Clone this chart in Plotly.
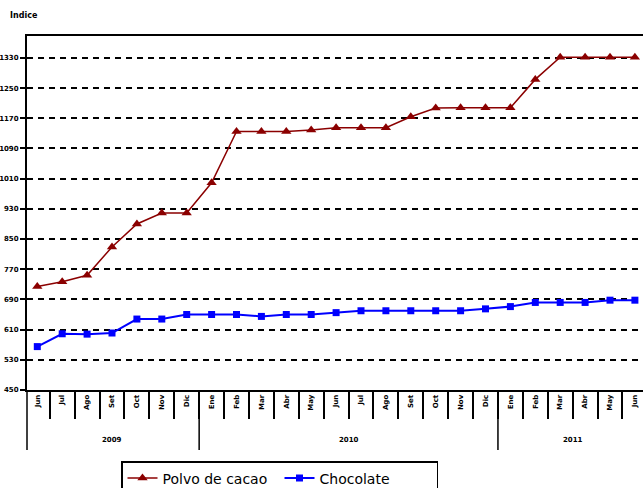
import plotly.graph_objects as go

months = ["Jun", "Jul", "Ago", "Set", "Oct", "Nov", "Dic",
          "Ene", "Feb", "Mar", "Abr", "May", "Jun", "Jul", "Ago", "Set", "Oct", "Nov", "Dic",
          "Ene", "Feb", "Mar", "Abr", "May", "Jun"]
years = ["2009", "2010", "2011"]
year_counts = [7, 12, 6]

polvo_cacao = [724, 737, 754, 829, 890, 919, 919,
               999, 1135, 1135, 1135, 1139, 1145, 1145, 1145, 1174, 1197, 1198, 1198,
               1198, 1273, 1332, 1332, 1332, 1332]
chocolate = [565, 599, 598, 601, 638, 638, 650,
             650, 650, 645, 650, 650, 655, 660, 660, 660, 660, 660, 665,
             671, 682, 682, 682, 688, 688]

y_ticks = [450, 530, 610, 690, 770, 850, 930, 1010, 1090, 1170, 1250, 1330]

W, H = 643, 488
ml, mr, mt, mb = 27, 0, 36, 98
plot_h = H - mt - mb
plot_w = W - ml - mr

idx = list(range(len(months)))

fig = go.Figure()
fig.add_trace(go.Scatter(
    x=idx, y=polvo_cacao, name="Polvo de cacao", mode="lines+markers",
    line=dict(color="#8B0000", width=1.5),
    marker=dict(symbol="triangle-up", size=9, color="#8B0000"),
))
fig.add_trace(go.Scatter(
    x=idx, y=chocolate, name="Chocolate", mode="lines+markers",
    line=dict(color="#0000FF", width=2),
    marker=dict(symbol="square", size=7, color="#0000FF"),
))

bounds = [i - 0.5 for i in range(len(months) + 1)]

shapes = []
annotations = []
start = 0
for yr, n in zip(years, year_counts):
    end = start + n
    annotations.append(dict(
        x=(start + end - 1) / 2, y=-50 / plot_h, xref="x", yref="paper",
        text=yr, showarrow=False, font=dict(size=7, color="black", weight="bold"),
        xanchor="center", yanchor="middle"))
    if end < len(months):
        shapes.append(dict(type="line", xref="x", yref="paper",
                           x0=end - 0.5, x1=end - 0.5, y0=0, y1=-60 / plot_h,
                           line=dict(color="black", width=1.5)))
    start = end
shapes.append(dict(type="line", xref="paper", yref="paper",
                   x0=0, x1=0, y0=0, y1=-60 / plot_h,
                   line=dict(color="black", width=1.5)))

fig.update_layout(
    width=W, height=H,
    margin=dict(l=ml, r=mr, t=mt, b=mb, autoexpand=False),
    paper_bgcolor="white", plot_bgcolor="white",
    font=dict(family="DejaVu Sans", color="black"),
    title=dict(text="Indice", x=10 / W, xanchor="left", y=1 - 15 / H, yanchor="middle",
               font=dict(size=8, color="black", weight="bold")),
    showlegend=True,
    legend=dict(orientation="h", x=(121 - ml) / plot_w, xanchor="left",
                y=-(461 - (H - mb)) / plot_h, yanchor="top",
                bordercolor="black", borderwidth=1.5, bgcolor="white",
                font=dict(size=14, color="black"),
                entrywidth=112, entrywidthmode="pixels"),
    xaxis=dict(
        range=[-(37.3 - ml) / 24.9, (W - mr - 37.3) / 24.9],
        tickmode="array", tickvals=idx, ticktext=months, tickangle=-90,
        tickfont=dict(size=7, color="black", weight="bold"),
        ticks="", showgrid=False, zeroline=False, automargin=False,
        showline=True, linecolor="black", linewidth=2, mirror=True,
        minor=dict(tickmode="array", tickvals=bounds, ticks="outside",
                   ticklen=27, tickcolor="black", tickwidth=1.5, showgrid=False),
    ),
    yaxis=dict(
        range=[450, 1388], tickmode="array", tickvals=y_ticks,
        ticktext=[str(v) for v in y_ticks], automargin=False,
        tickfont=dict(size=7, color="black", weight="bold"),
        ticks="outside", ticklen=5, tickcolor="black", tickwidth=1.5,
        showgrid=True, gridcolor="black", gridwidth=2, griddash="6px,5px",
        zeroline=False, showline=True, linecolor="black", linewidth=2,
    ),
    shapes=shapes, annotations=annotations,
)

fig.write_html("out.html", config={"displayModeBar": False},
               post_script="document.body.style.margin='0';document.body.style.overflow='hidden';")
